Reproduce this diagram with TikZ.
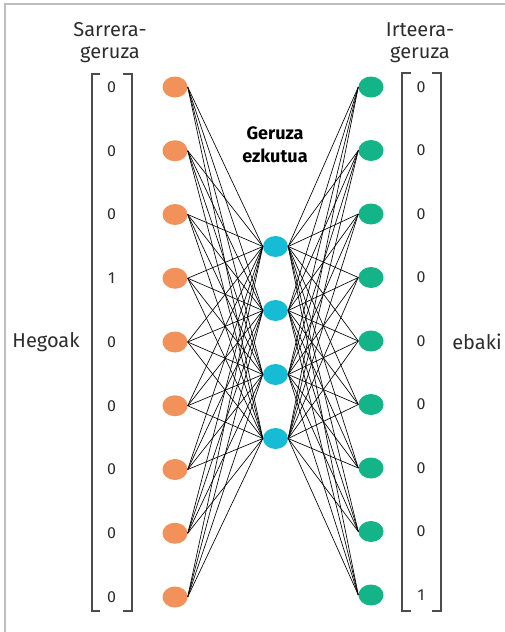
\documentclass[tikz,border=0pt]{standalone}
\usepackage{fontspec}
\setmainfont{Fira Sans}
\usetikzlibrary{shapes.geometric}
\definecolor{inorange}{RGB}{242,145,90}
\definecolor{hidcyan}{RGB}{22,188,214}
\definecolor{outgreen}{RGB}{18,180,136}
\definecolor{txtgray}{RGB}{45,45,45}
\definecolor{framegray}{RGB}{190,190,192}
\tikzset{
  neuron/.style={ellipse,minimum width=25pt,minimum height=21pt,inner sep=0pt},
  digit/.style={text=txtgray,font=\fontsize{16}{18}\selectfont},
  label/.style={text=txtgray,align=center,font=\fontsize{20}{22}\selectfont},
  bracket/.style={draw=txtgray!85,line width=1.1pt},
  synapse/.style={draw=black,line width=0.65pt}
}
\begin{document}
\begin{tikzpicture}[x=1pt,y=-1pt]
  \useasboundingbox (0,0) rectangle (505,632);
  % grey frame on the left and on top
  \draw[framegray,line width=2pt] (4.5,632) -- (4.5,3.5) -- (505,3.5);

  % the three layers of neurons
  \foreach \i in {1,...,9} {
    \node[neuron,fill=inorange] (in\i) at (175,{87+(\i-1)*63.75}) {};
    \node[neuron,fill=outgreen] (out\i) at (371,{87+(\i-1)*63.5}) {};
  }
  \foreach \j in {1,...,4} {
    \node[neuron,fill=hidcyan] (hid\j) at (275.5,{246.5+(\j-1)*64}) {};
  }

  % connect every neuron to the next layer
  \foreach \i in {1,...,9} {
    \foreach \j in {1,...,4} {
      \draw[synapse] (in\i.east) -- (hid\j.west);
      \draw[synapse] (hid\j.east) -- (out\i.west);
    }
  }

  % input and output vectors
  \foreach \v [count=\i] in {0,0,0,1,0,0,0,0,0} {
    \node[digit] (invec\i) at (111.5,{87+(\i-1)*63.75}) {\v};
  }
  \foreach \v [count=\i] in {0,0,0,0,0,0,0,0,1} {
    \node[digit] (outvec\i) at (421,{87+(\i-1)*63.5}) {\v};
  }
  \draw[bracket] (100,74) -- (92,74) -- (92,611) -- (100,611);
  \draw[bracket] (123,74) -- (132,74) -- (132,611) -- (123,611);
  \draw[bracket] (411,73) -- (402,73) -- (402,611) -- (411,611);
  \draw[bracket] (432,73) -- (441,73) -- (441,611) -- (432,611);

  % labels
  \node[label] (inlabel) at (110,43) {Sarrera-\\geruza};
  \node[label] (outlabel) at (420,43) {Irteera-\\geruza};
  \node[label] (word) at (46,342) {Hegoak};
  \node[label] (answer) at (477,342) {ebaki};
  \node[label,text=black,font=\bfseries\fontsize{18}{23}\selectfont] (hidlabel) at (275,145) {Geruza\\ezkutua};
\end{tikzpicture}
\end{document}
